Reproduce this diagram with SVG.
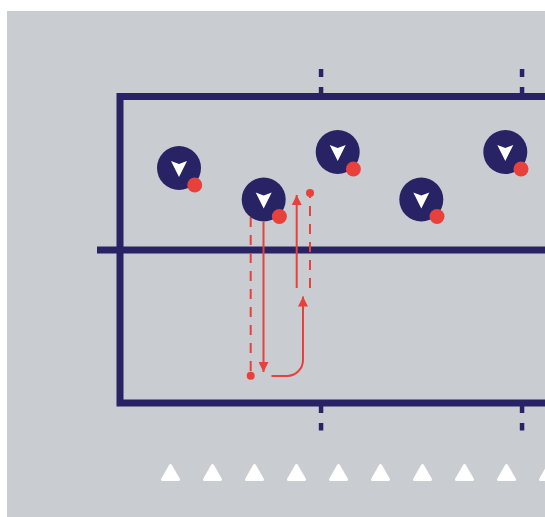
<svg xmlns="http://www.w3.org/2000/svg" width="545" height="517" viewBox="0 0 545 517">
<style>
.court{fill:none;stroke:#282364;stroke-width:7}
.tick{fill:#282364}
.body{fill:#282364}
.ball{fill:#e8403a}
.dir{fill:#ffffff}
.run{fill:none;stroke:#e8403a;stroke-width:2}
.dash{fill:none;stroke:#e8403a;stroke-width:2;stroke-dasharray:10 8}
.cone{fill:#ffffff;stroke:#ffffff;stroke-width:3;stroke-linejoin:round}
</style>
<defs>
<marker id="ah" viewBox="0 0 10 10" refX="10" refY="5" markerWidth="5" markerHeight="5" orient="auto" markerUnits="strokeWidth">
<path d="M0,0 L10,5 L0,10 Z" fill="#e8403a"/>
</marker>
<g id="player">
<circle r="22" class="body"/>
<path class="dir" d="M-8,-7 L0,-4 L8,-7 L0,9 Z"/>
<circle cx="15.7" cy="17" r="7.5" class="ball"/>
</g>
<path id="cone" d="M0,-7 L8,7 L-8,7 Z"/>
</defs>
<rect x="7" y="11" width="538" height="506" fill="#c9cdd1"/>
<g id="court">
<path class="court" d="M545,96.5 H120 V403 H545"/>
<path class="court" d="M97,250 H545"/>
<rect class="tick" x="318.8" y="69" width="4.5" height="8"/>
<rect class="tick" x="318.8" y="87" width="4.5" height="6"/>
<rect class="tick" x="519.8" y="69" width="4.5" height="8"/>
<rect class="tick" x="519.8" y="87" width="4.5" height="6"/>
<rect class="tick" x="318.8" y="406" width="4.5" height="7"/>
<rect class="tick" x="318.8" y="423" width="4.5" height="7.5"/>
<rect class="tick" x="519.8" y="406" width="4.5" height="7"/>
<rect class="tick" x="519.8" y="423" width="4.5" height="7.5"/>
</g>
<g id="connectors">
<path class="dash" d="M250.7,217 V372"/>
<circle cx="250.7" cy="375.7" r="4" class="ball"/>
<path class="run" d="M263.5,222 V372" marker-end="url(#ah)"/>
<path class="run" d="M296.7,288 V195" marker-end="url(#ah)"/>
<path class="dash" d="M310,288 V197"/>
<circle cx="310" cy="193" r="4" class="ball"/>
<path class="run" d="M271.5,376 H287 A16,16 0 0 0 303,360 V296.5" marker-end="url(#ah)"/>
</g>
<g id="p1"><use href="#player" x="179" y="168"/></g>
<g id="p2"><use href="#player" x="263.7" y="199.5"/></g>
<g id="p3"><use href="#player" x="337.7" y="152"/></g>
<g id="p4"><use href="#player" x="421.3" y="199.5"/></g>
<g id="p5"><use href="#player" x="505.3" y="152"/></g>
<g id="cones">
<use href="#cone" class="cone" x="170.5" y="472.5"/>
<use href="#cone" class="cone" x="212.5" y="472.5"/>
<use href="#cone" class="cone" x="254.5" y="472.5"/>
<use href="#cone" class="cone" x="296.5" y="472.5"/>
<use href="#cone" class="cone" x="338.5" y="472.5"/>
<use href="#cone" class="cone" x="380.5" y="472.5"/>
<use href="#cone" class="cone" x="422.5" y="472.5"/>
<use href="#cone" class="cone" x="464.5" y="472.5"/>
<use href="#cone" class="cone" x="506.5" y="472.5"/>
<use href="#cone" class="cone" x="548.5" y="472.5"/>
</g>
</svg>
